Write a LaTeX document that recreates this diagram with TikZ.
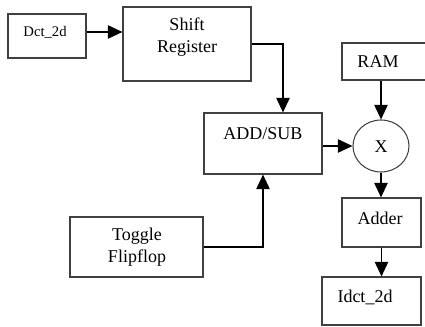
\documentclass[tikz,border=0pt]{standalone}
\usepackage{fontspec}
\setmainfont{Liberation Serif}
\usetikzlibrary{arrows.meta,fit,shapes.geometric}
\begin{document}
\begin{tikzpicture}[x=0.75pt,y=-0.75pt,
  box/.style={draw=black!75, line width=0.8pt, inner sep=0pt},
  arr/.style={line width=1.3pt, -{Triangle[length=11pt,width=10pt]}},
  lbl/.style={font=\fontsize{13.5}{16.5}\selectfont, inner sep=0pt, align=center},
  slbl/.style={font=\fontsize{11}{13}\selectfont, inner sep=0pt}]
\useasboundingbox (0,0) rectangle (425,327);
% boxes
\node[box, fit={(8,14)(86,58)}] (dct) {};
\node[box, fit={(123,7)(251,81)}] (shift) {};
\node[box, fit={(204,113)(322,174)}] (add) {};
\node[box, fit={(342,43)(432,80)}] (ram) {};
\node[draw=black!75, line width=0.8pt, ellipse, inner sep=0pt, minimum width=42pt, minimum height=39pt] (mul) at (381,146) {};
\node[box, fit={(342,198)(421,247)}] (adder) {};
\node[box, fit={(322,277)(421,325)}] (idct) {};
\node[box, fit={(70,217)(203,277)}] (toggle) {};
% labels
\node[slbl] (tdct) at (45,32) {Dct\_2d};
\node[lbl] (tshift) at (187,37) {Shift\\Register};
\node[lbl] (tadd) at (263,134) {ADD/SUB};
\node[lbl] (tram) at (378,62) {RAM};
\node[lbl] (tmul) at (381,147) {X};
\node[lbl] (tadder) at (380,218) {Adder};
\node[lbl] (tidct) at (365,297) {Idct\_2d};
\node[lbl] (ttoggle) at (137,247) {Toggle\\Flipflop};
% connectors
\coordinate (d1) at ([yshift=3pt]dct.east);
\draw[arr] (d1) -- (d1 -| shift.west);
\coordinate (a1) at ([xshift=15pt]add.north);
\draw[arr] (shift.east) -| (a1);
\draw[arr] (toggle.east) -| (add.south);
\draw[arr] (add.east |- mul.west) -- (mul.west);
\draw[arr] (mul.north |- ram.south) -- (mul.north);
\draw[arr] (mul.south) -- (mul.south |- adder.north);
\draw[arr] (adder.south) -- (adder.south |- idct.north);
\end{tikzpicture}
\end{document}
